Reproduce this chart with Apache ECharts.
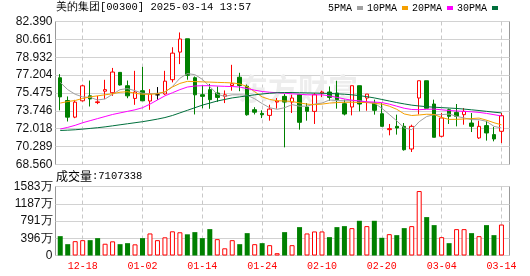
<!DOCTYPE html>
<html>
<head>
<meta charset="utf-8">
<title>美的集团 日K</title>
<script src="https://cdn.jsdelivr.net/npm/echarts@6/dist/echarts.min.js"></script>
<style>
  html, body { margin: 0; padding: 0; background: #fff; }
  #main { width: 530px; height: 276px; }
</style>
</head>
<body>
<div id="main"></div>
<script>
// 交易日
var dates = ['12-13', '12-16', '12-17', '12-18', '12-19', '12-20', '12-23', '12-24', '12-27', '12-30',
  '12-31', '01-02', '01-03', '01-06', '01-07', '01-08', '01-09', '01-10', '01-13', '01-14',
  '01-15', '01-16', '01-17', '01-20', '01-21', '01-22', '01-23', '01-24', '01-27', '01-28',
  '02-03', '02-04', '02-05', '02-06', '02-07', '02-10', '02-11', '02-12', '02-13', '02-14',
  '02-17', '02-18', '02-19', '02-20', '02-21', '02-24', '02-25', '02-26', '02-27', '02-28',
  '03-03', '03-04', '03-05', '03-06', '03-07', '03-10', '03-11', '03-12', '03-13', '03-14']

// K线 开 收 低 高
var openP = [76.95, 74.75, 73.14, 74.72, 75.2, 74.55, 75.65, 75.5, 77.47, 76.18,
  74.95, 75.7, 74.7, 75.3, 75.38, 76.76, 79.43, 80.72, 76.95, 75.31,
  75.8, 75.47, 75.15, 76.2, 77.0, 76.13, 73.86, 73.5, 73.31, 74.6,
  75.15, 74.6, 75.31, 74.12, 73.7, 75.47, 75.57, 75.47, 74.44, 74.12,
  76.18, 74.99, 74.5, 73.47, 71.93, 72.25, 72.25, 70.06, 74.99, 76.66,
  74.41, 71.29, 73.86, 73.6, 73.38, 72.57, 71.13, 72.32, 71.45, 71.77]
var closeP = [75.1, 73.14, 74.59, 76.17, 74.9, 74.62, 75.8, 77.5, 76.25, 75.2,
  75.57, 74.72, 75.4, 75.3, 76.62, 79.33, 80.7, 77.18, 75.3, 75.15,
  74.83, 75.05, 75.3, 76.37, 76.2, 73.37, 73.62, 73.38, 73.92, 74.7,
  74.6, 74.99, 72.64, 73.7, 75.31, 75.57, 75.05, 74.83, 73.44, 76.18,
  74.41, 75.37, 73.8, 72.25, 72.03, 72.09, 69.99, 72.25, 76.66, 74.0,
  71.19, 73.06, 73.22, 73.22, 73.7, 72.25, 72.25, 71.61, 71.03, 73.28]
var lowP = [73.8, 72.72, 73.04, 74.65, 74.17, 74.4, 74.88, 75.2, 76.2, 74.97,
  74.33, 74.7, 73.85, 74.82, 75.3, 76.5, 78.27, 76.76, 73.4, 74.0,
  73.95, 74.62, 74.5, 75.7, 75.65, 73.28, 73.4, 73.05, 72.8, 73.96,
  70.22, 73.54, 71.93, 72.8, 72.48, 75.08, 74.73, 73.96, 73.31, 73.31,
  73.7, 73.76, 73.38, 72.25, 71.38, 71.45, 69.9, 69.77, 73.4, 74.0,
  71.19, 71.19, 72.48, 72.25, 72.41, 71.7, 71.03, 70.87, 70.8, 70.64]
var highP = [77.3, 75.14, 74.81, 76.27, 76.68, 75.2, 76.75, 77.9, 77.5, 76.68,
  77.62, 78.0, 75.85, 76.05, 77.62, 79.9, 81.33, 80.72, 77.07, 76.2,
  76.35, 76.1, 75.72, 78.2, 77.43, 76.3, 74.1, 73.8, 74.34, 74.99,
  75.37, 75.31, 75.31, 74.5, 75.47, 75.7, 76.11, 76.66, 74.83, 76.18,
  76.18, 75.37, 74.83, 74.5, 72.48, 73.38, 72.57, 72.41, 76.66, 76.66,
  74.83, 73.54, 73.96, 74.41, 74.02, 73.54, 72.8, 72.8, 72.19, 73.54]

// 均线
var ma5 = [76.5, 75.8, 75.35, 75.1, 75.05, 74.8, 74.9, 75.35, 75.8, 75.9,
  75.7, 75.45, 75.4, 75.45, 75.55, 76.1, 76.9, 77.35, 77.25, 76.8,
  76.1, 75.35, 75.15, 75.3, 75.3, 75.25, 74.92, 74.45, 74.05, 73.9,
  74.05, 74.35, 74.2, 74.2, 74.4, 74.5, 74.8, 74.75, 74.73, 74.73,
  74.73, 74.6, 74.5, 74.0, 73.4, 72.78, 72.1, 71.93, 72.7, 73.2,
  73.38, 73.38, 73.44, 73.22, 73.06, 72.9, 72.9, 72.73, 72.25, 72.09]
var ma10 = [74.5, 74.65, 74.75, 74.95, 75.1, 75.2, 75.3, 75.4, 75.55, 75.6,
  75.45, 75.35, 75.35, 75.4, 75.6, 76.05, 76.4, 76.6, 76.58, 76.55,
  76.53, 76.5, 76.48, 76.45, 76.35, 76.1, 75.6, 75.1, 74.85, 74.73,
  74.7, 74.65, 74.52, 74.4, 74.35, 74.4, 74.5, 74.55, 74.57, 74.58,
  74.56, 74.55, 74.48, 74.4, 74.2, 73.9, 73.45, 73.3, 73.35, 73.42,
  73.4, 73.1, 72.92, 72.93, 72.96, 73.0, 73.05, 72.85, 72.6, 72.4]
var ma20 = [71.99, 72.15, 72.35, 72.6, 72.8, 73.0, 73.2, 73.4, 73.55, 73.7,
  73.85, 74.05, 74.4, 74.8, 75.2, 75.5, 75.8, 76.05, 76.15, 76.18,
  76.18, 76.15, 76.12, 76.1, 76.05, 75.9, 75.75, 75.62, 75.55, 75.5,
  75.45, 75.4, 75.35, 75.3, 75.3, 75.3, 75.2, 75.05, 74.9, 74.78,
  74.7, 74.62, 74.6, 74.55, 74.4, 74.2, 74.0, 73.88, 73.86, 73.9,
  73.92, 73.85, 73.78, 73.74, 73.7, 73.66, 73.6, 73.5, 73.38, 73.25]
var ma30 = [71.85, 71.88, 71.92, 71.98, 72.05, 72.12, 72.2, 72.3, 72.4, 72.5,
  72.6, 72.7, 72.82, 72.95, 73.1, 73.3, 73.55, 73.8, 74.05, 74.3,
  74.5, 74.7, 74.85, 75.0, 75.1, 75.2, 75.3, 75.38, 75.45, 75.5,
  75.52, 75.52, 75.5, 75.48, 75.47, 75.45, 75.43, 75.4, 75.36, 75.3,
  75.22, 75.12, 75.0, 74.85, 74.7, 74.55, 74.42, 74.3, 74.22, 74.15,
  74.1, 74.06, 74.02, 73.98, 73.92, 73.85, 73.78, 73.7, 73.62, 73.55]

// 成交量(股) 及涨跌 1红 0绿
var volume = [4440000, 2600000, 3290000, 3520000, 3520000, 3980000, 2700000, 3250000, 2600000, 2830000,
  2560000, 3980000, 5060000, 3520000, 4170000, 5550000, 5330000, 4860000, 5360000, 3980000,
  6050000, 3750000, 1650000, 3520000, 2600000, 5130000, 2600000, 2830000, 2370000, 530000,
  5360000, 2370000, 6510000, 5060000, 5520000, 5520000, 4210000, 6510000, 6740000, 6280000,
  7960000, 6740000, 7960000, 4060000, 4900000, 4670000, 6280000, 6740000, 14790000, 8810000,
  6970000, 4210000, 2830000, 6050000, 6050000, 5130000, 4440000, 6970000, 4670000, 7107338]
var volUp = [0, 0, 1, 1, 0, 0, 1, 1, 0, 0,
  1, 0, 1, 1, 1, 1, 1, 0, 0, 0,
  0, 1, 1, 1, 0, 0, 1, 0, 1, 1,
  0, 1, 0, 1, 1, 1, 0, 0, 0, 1,
  0, 1, 0, 0, 1, 0, 0, 1, 1, 0,
  0, 1, 0, 1, 1, 0, 1, 0, 0, 1]

// 刻度文字
var priceTicks = ['68.560', '70.289', '72.018', '73.746', '75.475', '77.204', '78.932', '80.661', '82.390']
var volTicks = ['0', '396万', '791万', '1187万', '1583万']

var priceMin = 68.56
var priceMax = 82.39
var priceStep = (priceMax - priceMin) / 8
var volMax = 15830000

var RED = '#ff0000'
var GREEN = '#008000'

var myChart = echarts.init(document.getElementById('main'))

// 每8个交易日一个日期标签
function showDate(index) {
  return (index - 3) % 8 === 0
}

var candleData = dates.map(function (d, i) {
  return [openP[i], closeP[i], lowP[i], highP[i]]
})

var volData = volume.map(function (v, i) {
  var up = volUp[i] === 1
  return {
    value: v,
    itemStyle: up
      ? { color: '#fff', borderColor: RED, borderWidth: 1 }
      : { color: GREEN, borderColor: GREEN, borderWidth: 0 }
  }
})

function maLine(name, data, color) {
  return {
    name: name,
    type: 'line',
    xAxisIndex: 0,
    yAxisIndex: 0,
    data: data,
    symbol: 'none',
    smooth: false,
    z: 3,
    lineStyle: { width: 1, color: color },
    itemStyle: { color: color }
  }
}

var dashed = { type: [4, 3], color: '#c8c8c8', width: 1 }
var solid = { type: 'solid', color: '#d2d2d2', width: 1 }
var labelFont = { fontFamily: 'Liberation Sans', fontSize: 12, color: '#111', margin: 3 }

var option = {
  animation: false,
  backgroundColor: '#fff',
  title: [
    {
      text: '美的集团[00300] 2025-03-14 13:57',
      left: 56,
      top: 2,
      padding: 0,
      textStyle: { fontSize: 10.5, fontWeight: 'normal', fontFamily: 'Liberation Mono', color: '#000' }
    },
    {
      text: '{a|成交量}{b|:' + volume[volume.length - 1] + '}',
      left: 56,
      top: 170,
      padding: 0,
      textStyle: {
        fontWeight: 'normal',
        rich: {
          a: { fontSize: 12, fontWeight: 'normal', fontFamily: 'Noto Sans CJK SC', color: '#000' },
          b: { fontSize: 10.5, fontWeight: 'normal', fontFamily: 'Liberation Mono', color: '#000' }
        }
      }
    }
  ],
  legend: {
    data: ['5PMA', '10PMA', '20PMA', '30PMA'],
    right: 32,
    top: 3,
    padding: 0,
    align: 'right',
    icon: 'rect',
    itemWidth: 6,
    itemHeight: 4,
    itemGap: 4,
    textStyle: { fontFamily: 'Liberation Mono', fontSize: 10, color: '#000' }
  },
  // 水印
  graphic: [
    {
      type: 'text',
      left: 238,
      top: 74,
      z: 1,
      silent: true,
      style: { text: '东方财富', fontSize: 30, fontWeight: 'bold', fontFamily: 'Noto Sans CJK SC', fill: '#ededed' }
    }
  ],
  grid: [
    // 数据区
    { left: 56.5, right: 24.8, top: 21.5, height: 143 },
    { left: 56.5, right: 24.8, top: 186.5, height: 69 },
    // 边框 + 横线
    { left: 55.5, right: 20.5, top: 21.5, height: 143, show: true, borderColor: '#999', borderWidth: 1, backgroundColor: 'transparent' },
    { left: 55.5, right: 20.5, top: 186.5, height: 69, show: true, borderColor: '#999', borderWidth: 1, backgroundColor: 'transparent' }
  ],
  xAxis: [
    {
      type: 'category',
      gridIndex: 0,
      data: dates,
      boundaryGap: true,
      axisLine: { show: false },
      axisTick: { show: false },
      axisLabel: { show: false },
      splitLine: { show: true, interval: showDate, alignWithLabel: true, lineStyle: dashed }
    },
    {
      type: 'category',
      gridIndex: 1,
      data: dates,
      boundaryGap: true,
      axisLine: { show: false },
      axisTick: { show: false },
      axisLabel: { show: true, interval: showDate, color: RED, fontFamily: 'Liberation Mono', fontSize: 10, margin: 6 },
      splitLine: { show: true, interval: showDate, alignWithLabel: true, lineStyle: dashed }
    },
    { type: 'value', gridIndex: 2, min: 0, max: 1, show: false },
    { type: 'value', gridIndex: 3, min: 0, max: 1, show: false }
  ],
  yAxis: [
    { type: 'value', gridIndex: 0, min: priceMin, max: priceMax, show: false },
    { type: 'value', gridIndex: 1, min: 0, max: volMax, show: false },
    {
      type: 'value',
      gridIndex: 2,
      min: priceMin,
      max: priceMax,
      interval: priceStep,
      axisLine: { show: false },
      axisTick: { show: false },
      axisLabel: Object.assign({}, labelFont, {
        formatter: function (v) {
          return priceTicks[Math.round((v - priceMin) / priceStep)]
        }
      }),
      splitLine: { show: true, lineStyle: solid }
    },
    {
      type: 'value',
      gridIndex: 3,
      min: 0,
      max: volMax,
      interval: volMax / 4,
      axisLine: { show: false },
      axisTick: { show: false },
      axisLabel: Object.assign({}, labelFont, {
        formatter: function (v) {
          return volTicks[Math.round(v / (volMax / 4))]
        }
      }),
      splitLine: { show: true, lineStyle: solid }
    }
  ],
  series: [
    {
      name: 'K',
      type: 'candlestick',
      xAxisIndex: 0,
      yAxisIndex: 0,
      data: candleData,
      barWidth: 4,
      z: 2,
      itemStyle: {
        color: '#fff',
        color0: GREEN,
        borderColor: RED,
        borderColor0: GREEN,
        borderColorDoji: '#000',
        borderWidth: 1
      }
    },
    maLine('5PMA', ma5, '#a0a0a0'),
    maLine('10PMA', ma10, '#f5a000'),
    maLine('20PMA', ma20, '#ff00ff'),
    maLine('30PMA', ma30, '#006f3c'),
    {
      name: 'VOL',
      type: 'bar',
      xAxisIndex: 1,
      yAxisIndex: 1,
      data: volData,
      barWidth: 5
    }
  ]
}

myChart.setOption(option, true)
</script>
</body>
</html>
